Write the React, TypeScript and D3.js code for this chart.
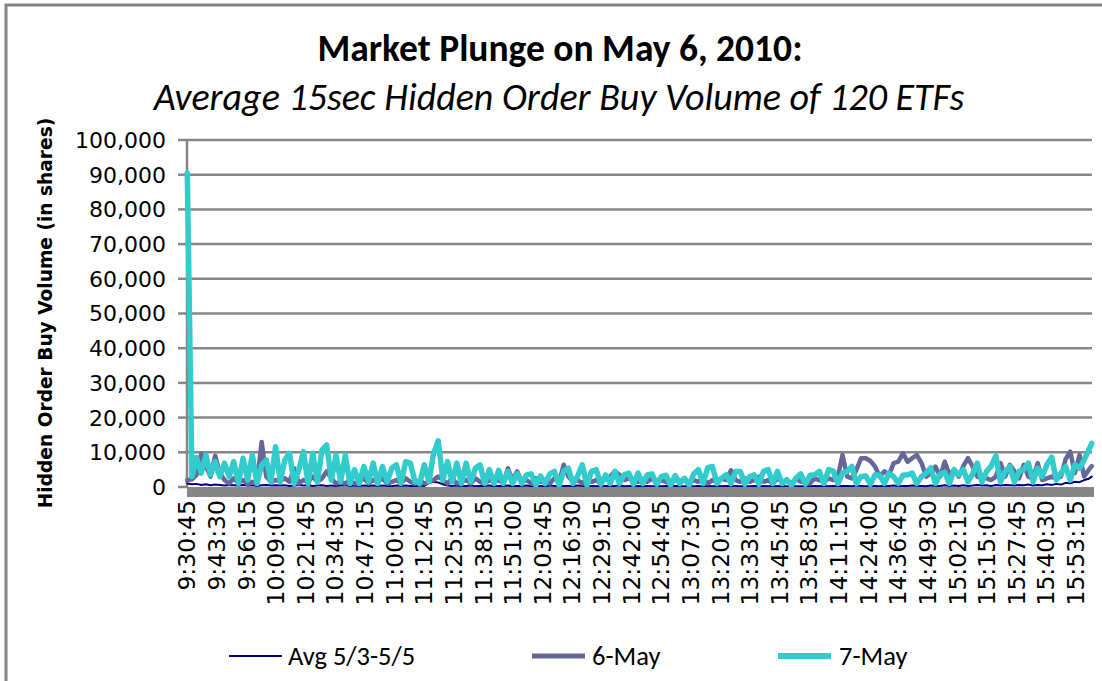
import React, { useEffect } from 'react';
import * as d3 from 'd3';

// ---------- text ----------
const TITLE = 'Market Plunge on May 6, 2010:';
const SUBTITLE = 'Average 15sec Hidden Order Buy Volume of 120 ETFs';
const Y_LABEL = 'Hidden Order Buy Volume (in shares)';

// ---------- categories: 15-second buckets 9:30:45 … 16:00:00 ----------
const N_CATEGORIES = 1558;
const SAMPLE_STEP = 8; // values below are read every 8 buckets (2 minutes)
const LABEL_STEP = 51; // axis label every 51 buckets (12:45)

const xTickLabels = [
  '9:30:45', '9:43:30', '9:56:15', '10:09:00', '10:21:45', '10:34:30', '10:47:15', '11:00:00',
  '11:12:45', '11:25:30', '11:38:15', '11:51:00', '12:03:45', '12:16:30', '12:29:15', '12:42:00',
  '12:54:45', '13:07:30', '13:20:15', '13:33:00', '13:45:45', '13:58:30', '14:11:15', '14:24:00',
  '14:36:45', '14:49:30', '15:02:15', '15:15:00', '15:27:45', '15:40:30', '15:53:15',
];

const yTicks = [0, 10, 20, 30, 40, 50, 60, 70, 80, 90, 100]; // thousands of shares
const yTickLabels = ['0', '10,000', '20,000', '30,000', '40,000', '50,000', '60,000', '70,000', '80,000', '90,000', '100,000'];

const seriesNames = ['Avg 5/3-5/5', '6-May', '7-May'];

// ---------- series values (thousands of shares) ----------
const avgValues = [
  1.0, 0.8, 0.9, 0.6, 0.8, 0.5, 0.7, 0.6, 0.4, 0.6,
  0.5, 0.4, 0.6, 0.4, 0.5, 0.3, 0.5, 0.6, 0.4, 0.5,
  0.4, 0.5, 0.3, 0.4, 0.6, 0.4, 0.5, 0.3, 0.4, 0.5,
  0.3, 0.4, 0.3, 0.4, 0.5, 0.3, 0.4, 0.3, 0.4, 0.3,
  0.4, 0.3, 0.4, 0.3, 0.2, 0.4, 0.3, 0.4, 0.3, 0.2,
  0.4, 0.3, 1.2, 1.5, 1.3, 0.8, 0.4, 0.3, 0.4, 0.3,
  0.3, 0.4, 0.2, 0.3, 0.3, 0.4, 0.2, 0.3, 0.3, 0.4,
  0.2, 0.3, 0.3, 0.4, 0.2, 0.3, 0.3, 0.2, 0.4, 0.3,
  0.2, 0.3, 0.3, 0.2, 0.4, 0.3, 0.2, 0.3, 0.2, 0.3,
  0.3, 0.2, 0.3, 0.4, 0.2, 0.3, 0.2, 0.3, 0.2, 0.3,
  0.2, 0.3, 0.2, 0.3, 0.2, 0.3, 0.2, 0.2, 0.3, 0.2,
  0.3, 0.2, 0.3, 0.2, 0.3, 0.2, 0.3, 0.2, 0.3, 0.2,
  0.3, 0.2, 0.3, 0.2, 0.3, 0.2, 0.3, 0.2, 0.3, 0.2,
  0.3, 0.2, 0.2, 0.3, 0.2, 0.3, 0.2, 0.3, 0.2, 0.3,
  0.2, 0.3, 0.3, 0.2, 0.4, 0.3, 0.2, 0.3, 0.3, 0.2,
  0.3, 0.3, 0.4, 0.2, 0.3, 0.3, 0.4, 0.3, 0.3, 0.2,
  0.4, 0.3, 0.3, 0.5, 0.3, 0.4, 0.3, 0.5, 0.3, 0.4,
  0.6, 0.4, 0.5, 0.3, 0.6, 0.4, 0.6, 0.5, 0.4, 0.6,
  0.5, 0.7, 0.4, 0.6, 0.5, 0.8, 0.6, 0.9, 0.7, 1.2,
  1.1, 1.5, 1.4, 2.0, 2.4, 3.0,
];

const may6Values = [
  2.0, 2.2, 3.5, 9.5, 6.0, 3.0, 9.0, 4.0, 2.0, 1.0,
  2.5, 1.2, 2.0, 0.8, 1.5, 1.0, 13.0, 3.0, 1.5, 2.0,
  1.8, 2.5, 1.5, 5.4, 1.0, 2.0, 1.5, 3.0, 1.5, 2.5,
  4.5, 2.5, 1.0, 1.5, 1.0, 2.0, 1.0, 1.5, 2.5, 1.0,
  2.0, 1.5, 2.5, 1.0, 1.5, 2.0, 1.0, 2.5, 1.5, 1.0,
  2.0, 1.0, 1.5, 2.0, 3.0, 2.0, 1.0, 2.5, 1.0, 1.5,
  2.0, 1.0, 2.5, 1.5, 1.0, 2.0, 1.5, 2.0, 1.0, 5.4,
  2.0, 4.5, 1.5, 2.0, 1.0, 2.5, 1.5, 2.0, 1.0, 2.5,
  1.5, 6.4, 3.0, 1.5, 2.0, 1.0, 2.5, 1.5, 2.0, 1.0,
  2.5, 3.0, 4.5, 3.5, 2.0, 2.5, 2.0, 1.5, 2.0, 1.5,
  2.5, 1.0, 2.0, 1.5, 1.0, 2.0, 1.5, 2.5, 1.0, 2.0,
  1.5, 2.5, 1.0, 2.0, 1.5, 2.5, 2.0, 4.8, 2.0, 1.5,
  2.5, 1.5, 2.0, 3.0, 1.5, 2.0, 1.0, 2.5, 1.5, 2.0,
  1.0, 2.5, 1.5, 2.0, 1.0, 2.5, 2.0, 1.5, 2.5, 2.0,
  3.0, 9.2, 3.0, 2.5, 5.0, 8.3, 8.3, 7.5, 5.9, 3.0,
  4.5, 3.5, 6.9, 7.3, 9.7, 7.3, 8.3, 9.2, 6.9, 3.0,
  4.0, 5.9, 3.0, 7.3, 3.5, 5.0, 3.0, 6.0, 8.3, 5.9,
  3.0, 2.5, 2.5, 2.0, 3.0, 6.9, 3.0, 6.4, 4.5, 2.5,
  6.4, 3.0, 2.5, 6.9, 2.0, 2.5, 3.0, 2.5, 3.0, 8.0,
  10.2, 4.0, 9.2, 3.0, 5.0, 6.0,
];

const may7Values = [
  90.5, 3.0, 8.5, 4.0, 9.2, 3.5, 7.3, 3.0, 6.9, 3.0,
  7.3, 1.0, 8.3, 2.0, 9.2, 1.0, 6.4, 7.8, 1.5, 11.6,
  1.5, 7.8, 9.7, 1.0, 5.0, 10.2, 1.0, 9.7, 1.5, 10.7,
  12.1, 2.0, 9.2, 1.5, 9.2, 1.0, 5.0, 1.0, 5.9, 1.5,
  6.9, 1.0, 5.9, 1.5, 5.4, 6.4, 1.0, 7.3, 6.9, 1.5,
  1.0, 6.4, 1.5, 9.7, 13.3, 2.0, 7.3, 1.5, 6.9, 1.0,
  6.9, 1.5, 5.4, 6.4, 1.0, 5.0, 1.0, 4.8, 1.0, 4.5,
  1.0, 3.8, 1.0, 3.5, 3.8, 0.5, 3.2, 1.0, 3.8, 4.5,
  0.5, 4.5, 5.4, 1.0, 3.2, 6.4, 0.5, 4.5, 5.0, 0.8,
  3.5, 1.0, 4.5, 1.0, 3.5, 4.0, 0.8, 4.0, 1.0, 3.5,
  3.8, 0.8, 3.0, 3.4, 0.5, 3.3, 1.0, 2.5, 0.5, 3.8,
  5.0, 1.0, 5.6, 5.9, 1.0, 2.6, 3.5, 1.0, 4.5, 4.5,
  0.8, 3.0, 3.5, 0.8, 4.5, 5.0, 1.0, 4.5, 1.0, 2.1,
  0.5, 2.6, 3.8, 0.8, 3.4, 3.5, 4.5, 1.0, 5.0, 4.6,
  1.0, 4.0, 4.5, 5.9, 1.0, 3.0, 3.2, 0.8, 3.5, 3.4,
  1.0, 4.0, 3.0, 1.0, 3.4, 3.5, 4.0, 1.0, 3.0, 4.0,
  5.5, 1.0, 3.8, 4.2, 1.0, 5.0, 3.5, 5.0, 1.5, 3.8,
  6.9, 1.5, 4.5, 6.0, 9.0, 1.5, 4.5, 5.9, 1.5, 4.5,
  5.0, 6.9, 1.5, 5.4, 3.0, 6.5, 8.6, 2.0, 4.0, 5.9,
  2.0, 6.4, 5.4, 7.8, 10.7, 12.6,
];

const seriesValues = [avgValues, may6Values, may7Values];
const seriesColors = ['#000080', '#666699', '#33CCCC'];
const seriesWidths = [2, 4.5, 5.5];
const legendWidths = [2, 5, 6];

const GRAY = '#868686';
const CALIBRI = 'Carlito, Calibri, Lato, sans-serif';
const VERDANA = 'Verdana, "DejaVu Sans", sans-serif';

export default function App() {
  useEffect(() => {
    document.body.style.margin = '0';
  }, []);

  const W = 1102;
  const H = 681;
  const plot = { left: 187, right: 1092, top: 140, bottom: 487 };

  const x = d3.scaleLinear().domain([-0.5, N_CATEGORIES - 0.5]).range([plot.left, plot.right]);
  const y = d3.scaleLinear().domain([0, 100]).range([plot.bottom, plot.top]);

  const line = d3
    .line<number>()
    .x((_, k) => x(Math.min(k * SAMPLE_STEP, N_CATEGORIES - 1)))
    .y((v) => y(v));

  const legendItems = [
    { lx: 229, tx: 288 },
    { lx: 532, tx: 592 },
    { lx: 778, tx: 839 },
  ];

  return (
    <svg width={W} height={H} style={{ display: 'block' }}>
      <rect x={0} y={0} width={W} height={H} fill="#ffffff" />
      {/* outer chart border (extends past the picture on right/bottom) */}
      <rect x={6} y={5} width={W + 20} height={H + 20} fill="none" stroke={GRAY} strokeWidth={3} />

      {/* titles */}
      <text x={560} y={61} textAnchor="middle" fontFamily={CALIBRI} fontWeight="bold" fontSize={37.5} fill="#000">
        {TITLE}
      </text>
      <text x={559} y={110} textAnchor="middle" fontFamily={CALIBRI} fontStyle="italic" fontSize={38} fill="#000">
        {SUBTITLE}
      </text>

      {/* y axis title */}
      <text
        transform={`translate(52, ${313}) rotate(-90)`}
        textAnchor="middle"
        fontFamily={VERDANA}
        fontWeight="bold"
        fontSize={18.6}
        fill="#000"
      >
        {Y_LABEL}
      </text>

      {/* gridlines and y ticks */}
      {yTicks.map((t, i) => (
        <g key={t}>
          {t > 0 && (
            <line x1={plot.left} x2={plot.right} y1={y(t)} y2={y(t)} stroke={GRAY} strokeWidth={2.5} />
          )}
          <line x1={plot.left - 9} x2={plot.left} y1={y(t)} y2={y(t)} stroke={GRAY} strokeWidth={2.5} />
          <text
            x={166}
            y={y(t)}
            dy="0.36em"
            textAnchor="end"
            fontFamily={VERDANA}
            fontSize={22}
            fill="#000"
          >
            {yTickLabels[i]}
          </text>
        </g>
      ))}
      <line x1={plot.left} x2={plot.left} y1={plot.top} y2={plot.bottom} stroke={GRAY} strokeWidth={2.5} />

      {/* series */}
      {seriesValues.map((vals, s) => (
        <path
          key={s}
          d={line(vals) || ''}
          fill="none"
          stroke={seriesColors[s]}
          strokeWidth={seriesWidths[s]}
          strokeLinejoin="round"
          strokeLinecap="round"
        />
      ))}

      {/* thick category axis */}
      <rect x={plot.left} y={plot.bottom} width={plot.right - plot.left + 2} height={10} fill={GRAY} />

      {/* x tick labels */}
      {xTickLabels.map((lab, j) => (
        <text
          key={lab}
          transform={`translate(${x(j * LABEL_STEP)}, 500) rotate(-90)`}
          textAnchor="end"
          dominantBaseline="central"
          fontFamily={VERDANA}
          fontSize={23.5}
          fill="#000"
        >
          {lab}
        </text>
      ))}

      {/* legend */}
      {seriesNames.map((name, s) => (
        <g key={name}>
          <line
            x1={legendItems[s].lx}
            x2={legendItems[s].lx + 53}
            y1={656}
            y2={656}
            stroke={seriesColors[s]}
            strokeWidth={legendWidths[s]}
          />
          <text x={legendItems[s].tx} y={656} dy="0.35em" fontFamily={CALIBRI} fontSize={26.5} fill="#000">
            {name}
          </text>
        </g>
      ))}
    </svg>
  );
}
